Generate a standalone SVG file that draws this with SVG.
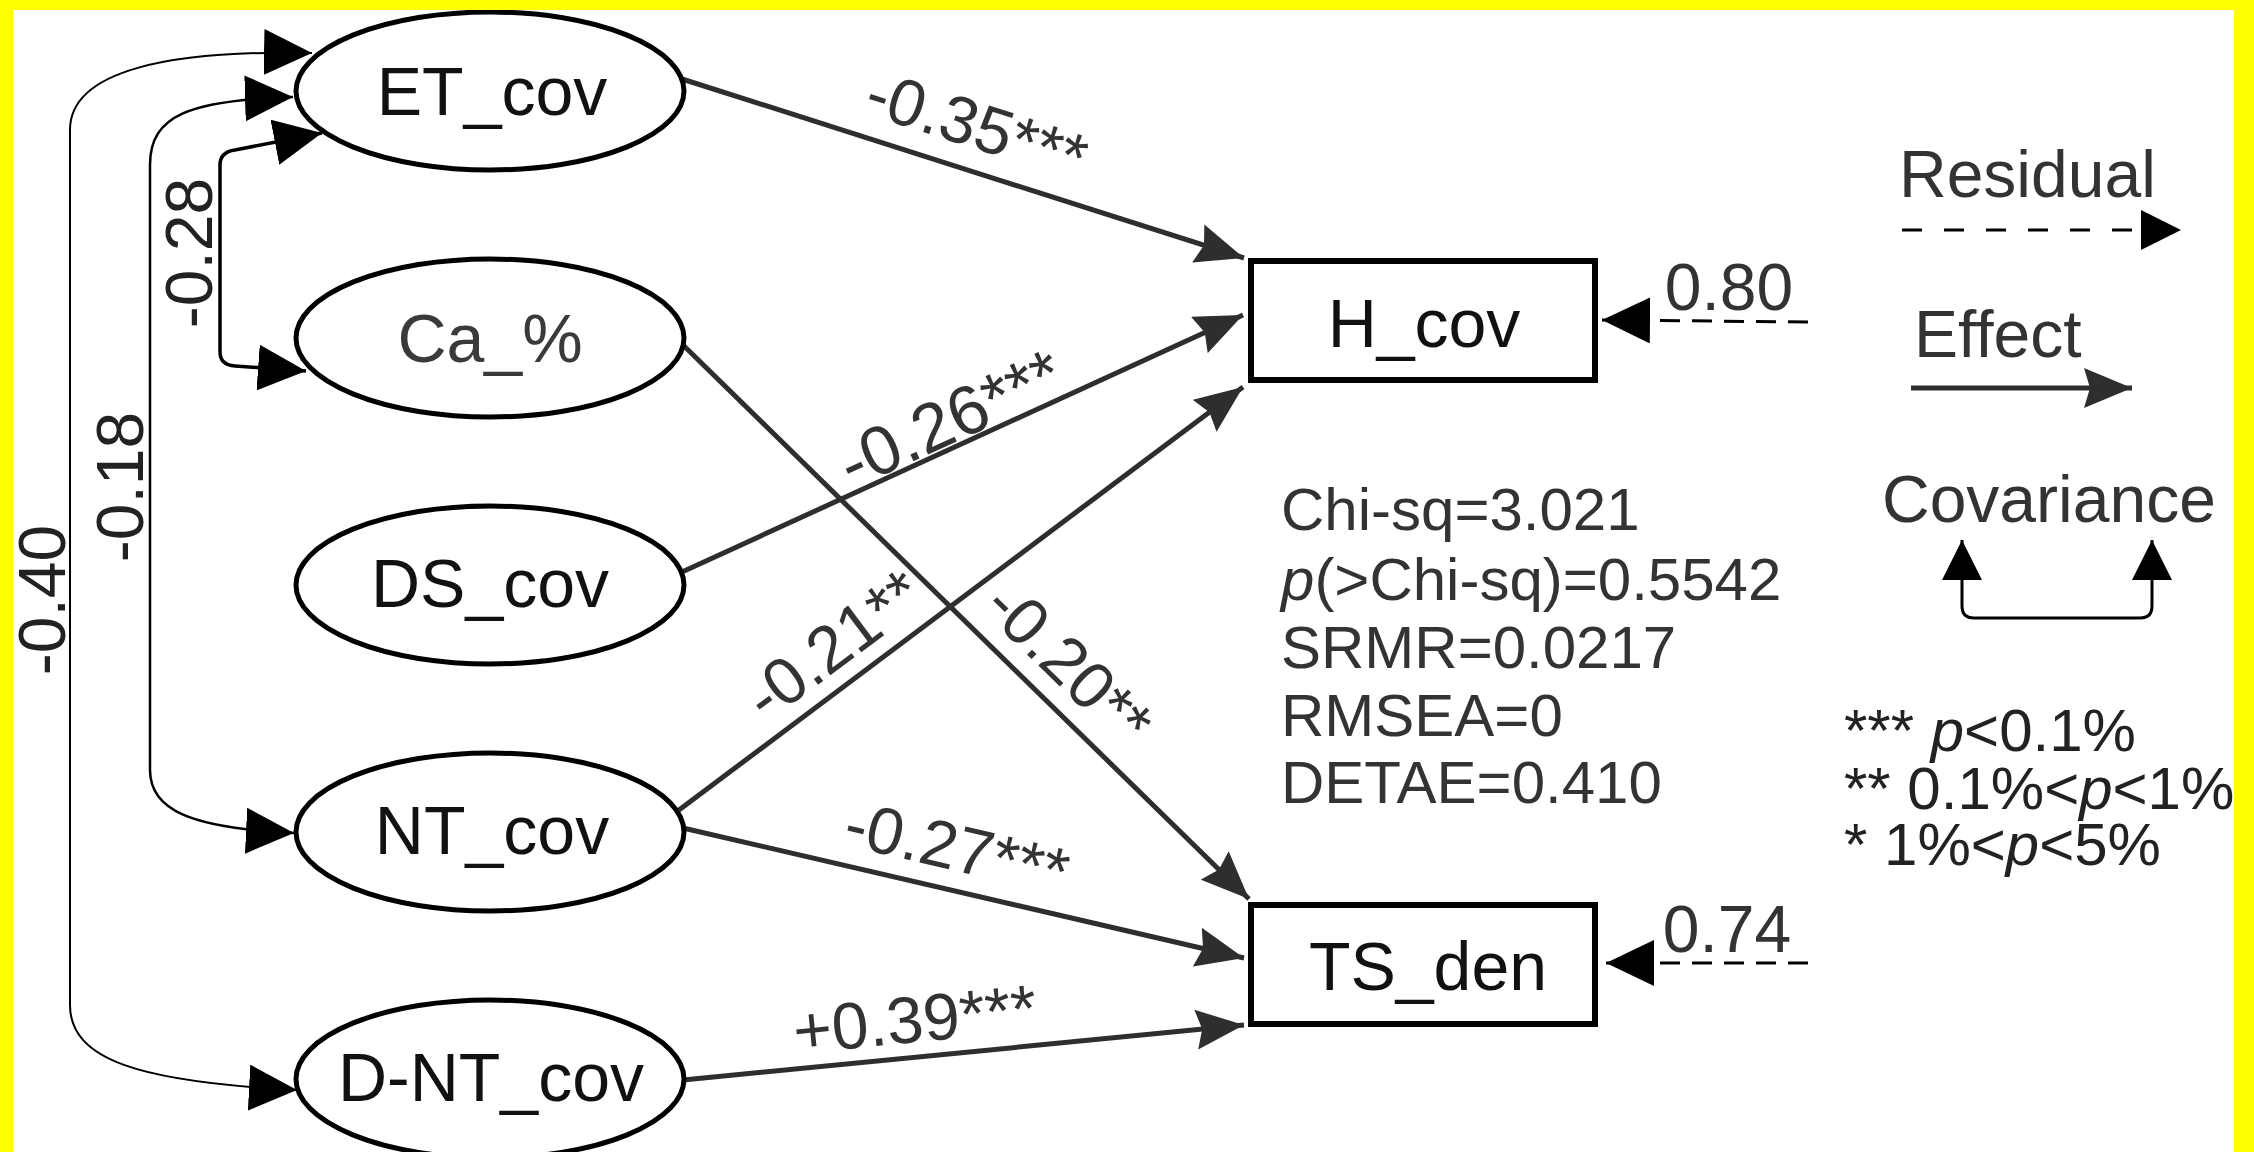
<svg xmlns="http://www.w3.org/2000/svg" width="2254" height="1152" viewBox="0 0 2254 1152">
  <style>
    text { font-family: "Liberation Sans", Arial, Helvetica, sans-serif; }
    .node { fill: #fff; stroke: #000; stroke-width: 5; }
    .box { fill: #fff; stroke: #000; stroke-width: 6; }
    .nlabel { font-size: 68px; fill: #111; text-anchor: middle; }
    .elabel { font-size: 66px; fill: #333; text-anchor: middle; }
    .clabel { font-size: 66px; fill: #222; text-anchor: middle; }
    .stat { font-size: 60px; fill: #333; }
    .legend { font-size: 66px; fill: #333; }
    .sig { font-size: 60px; fill: #222; }
    .eff { fill: none; stroke: #2e2e2e; stroke-width: 5; marker-end: url(#effArrow); }
    .cov { fill: none; stroke: #000; marker-start: url(#covArrow); marker-end: url(#covArrow); }
    .res { fill: none; stroke: #000; stroke-width: 3; stroke-dasharray: 20 12; marker-end: url(#covArrow); }
  </style>
  <defs>
    <marker id="effArrow" markerUnits="userSpaceOnUse" viewBox="0 0 48 40" markerWidth="48" markerHeight="40" refX="48" refY="20" orient="auto">
      <path d="M0,0 L48,20 L0,40 L6,20 Z" fill="#2e2e2e"/>
    </marker>
    <marker id="covArrow" markerUnits="userSpaceOnUse" viewBox="0 0 48 46" markerWidth="48" markerHeight="46" refX="48" refY="23" orient="auto-start-reverse">
      <path d="M0,0 L48,23 L0,46 Z" fill="#000"/>
    </marker>
    <marker id="covSmall" markerUnits="userSpaceOnUse" viewBox="0 0 40 40" markerWidth="40" markerHeight="40" refX="40" refY="20" orient="auto-start-reverse">
      <path d="M0,0 L40,20 L0,40 Z" fill="#000"/>
    </marker>
  </defs>

  <!-- page -->
  <rect x="0" y="0" width="2254" height="1152" fill="#fff"/>

  <!-- connectors -->
  <g id="connectors">
    <!-- covariances between exogenous variables -->
    <path class="cov" stroke-width="2" d="M312,53 C170,50 70,70 70,130 V1005 C70,1060 140,1082 297,1090"/>
    <path class="cov" stroke-width="2.5" d="M293,97 C190,100 150,115 150,165 V770 C150,810 190,828 294,833"/>
    <path class="cov" stroke-width="3.5" d="M322,133 L235,150 Q220,152 220,165 V352 Q220,365 235,366 L306,371"/>

    <!-- effects -->
    <path class="eff" d="M682,79 L1244,258"/>
    <path class="eff" stroke-width="3.5" d="M683,345 L1249,899"/>
    <path class="eff" d="M682,572 L1243,315"/>
    <path class="eff" stroke-width="4" d="M679,810 L1243,387"/>
    <path class="eff" d="M683,828 L1244,958"/>
    <path class="eff" d="M683,1080 L1244,1025"/>

    <!-- residuals -->
    <path class="res" d="M1808,322 L1602,320"/>
    <path class="res" d="M1808,963 L1606,963"/>
  </g>

  <!-- coefficient labels -->
  <g id="edge-labels">
    <text class="clabel" transform="translate(212,253) rotate(-90)">-0.28</text>
    <text class="clabel" transform="translate(143,487) rotate(-90)">-0.18</text>
    <text class="clabel" transform="translate(65,600) rotate(-90)">-0.40</text>

    <text class="elabel" transform="translate(970,147) rotate(17.8)">-0.35***</text>
    <text class="elabel" style="font-size:69px" transform="translate(960,440) rotate(-24.5)">-0.26***</text>
    <text class="elabel" transform="translate(847,663) rotate(-36.7)">-0.21**</text>
    <text class="elabel" transform="translate(1053,680) rotate(44.3)">-0.20**</text>
    <text class="elabel" transform="translate(952,870) rotate(13)">-0.27***</text>
    <text class="elabel" transform="translate(917,1042) rotate(-5.6)">+0.39***</text>

    <text class="elabel" x="1729" y="310">0.80</text>
    <text class="elabel" x="1727" y="952">0.74</text>
  </g>

  <!-- exogenous variables -->
  <g id="ET_cov">
    <ellipse class="node" cx="490" cy="91" rx="194" ry="79"/>
    <text class="nlabel" x="492" y="115">ET_cov</text>
  </g>
  <g id="Ca_pct">
    <ellipse class="node" cx="490" cy="338" rx="194" ry="79"/>
    <text class="nlabel" x="490" y="362" style="fill:#3a3a3a">Ca_%</text>
  </g>
  <g id="DS_cov">
    <ellipse class="node" cx="490" cy="585" rx="194" ry="79"/>
    <text class="nlabel" x="490" y="607">DS_cov</text>
  </g>
  <g id="NT_cov">
    <ellipse class="node" cx="490" cy="832" rx="194" ry="79"/>
    <text class="nlabel" x="492" y="854">NT_cov</text>
  </g>
  <g id="D-NT_cov">
    <ellipse class="node" cx="490" cy="1079" rx="194" ry="79"/>
    <text class="nlabel" x="491" y="1101">D-NT_cov</text>
  </g>

  <!-- endogenous variables -->
  <g id="H_cov">
    <rect class="box" x="1251" y="261" width="344" height="119"/>
    <text class="nlabel" x="1424" y="347">H_cov</text>
  </g>
  <g id="TS_den">
    <rect class="box" x="1251" y="905" width="344" height="119"/>
    <text class="nlabel" x="1428" y="990">TS_den</text>
  </g>

  <!-- fit statistics -->
  <g id="fit-stats">
    <text class="stat" x="1281" y="530">Chi-sq=3.021</text>
    <text class="stat" x="1281" y="600"><tspan font-style="italic">p</tspan>(&gt;Chi-sq)=0.5542</text>
    <text class="stat" x="1281" y="668">SRMR=0.0217</text>
    <text class="stat" x="1281" y="736">RMSEA=0</text>
    <text class="stat" x="1281" y="803">DETAE=0.410</text>
  </g>

  <!-- legend -->
  <g id="legend">
    <text class="legend" x="1899" y="197">Residual</text>
    <path fill="none" stroke="#000" stroke-width="3" stroke-dasharray="20 22" marker-end="url(#covSmall)" d="M1902,230 L2181,230"/>
    <text class="legend" x="1914" y="357">Effect</text>
    <path class="eff" d="M1911,388 L2132,388"/>
    <text class="legend" x="1882" y="522">Covariance</text>
    <path fill="none" stroke="#000" stroke-width="3" marker-start="url(#covSmall)" marker-end="url(#covSmall)" d="M1962,540 V606 Q1962,618 1974,618 H2140 Q2152,618 2152,606 V540"/>
  </g>

  <!-- significance codes -->
  <g id="significance">
    <text class="sig" x="1844" y="751">*** <tspan font-style="italic">p</tspan>&lt;0.1%</text>
    <text class="sig" x="1844" y="809">** 0.1%&lt;<tspan font-style="italic">p</tspan>&lt;1%</text>
    <text class="sig" x="1844" y="865">* 1%&lt;<tspan font-style="italic">p</tspan>&lt;5%</text>
  </g>

  <!-- frame -->
  <g id="frame" fill="#ffff00">
    <rect x="0" y="0" width="2254" height="10"/>
    <rect x="0" y="0" width="13" height="1152"/>
    <rect x="2234" y="0" width="20" height="1152"/>
  </g>
</svg>
